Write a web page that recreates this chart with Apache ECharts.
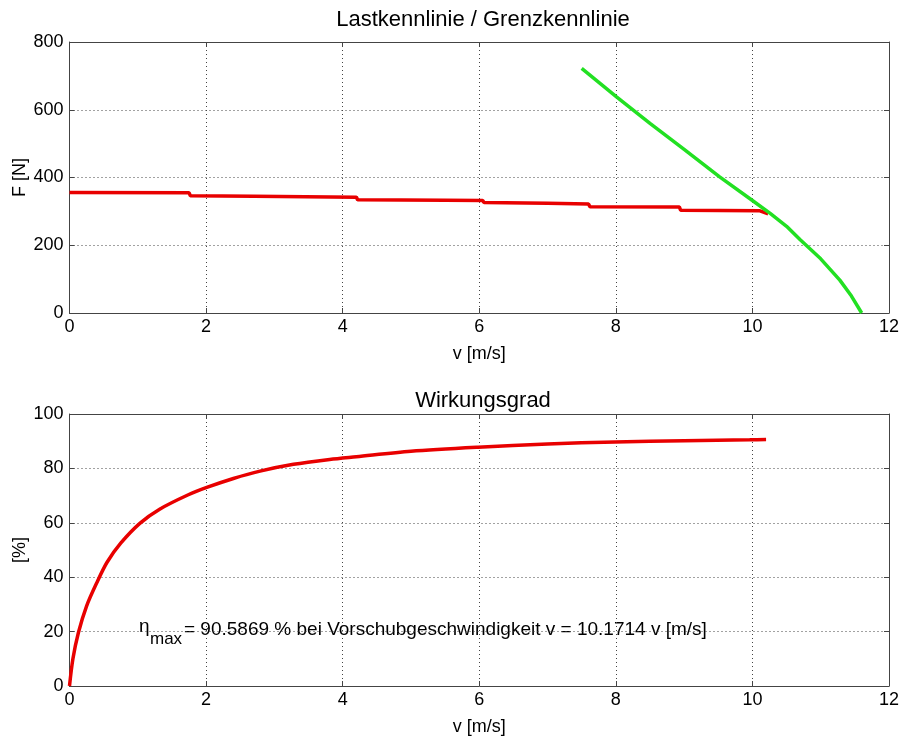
<!DOCTYPE html>
<html>
<head>
<meta charset="utf-8">
<title>Lastkennlinie / Wirkungsgrad</title>
<script src="https://cdn.jsdelivr.net/npm/echarts@6/dist/echarts.min.js"></script>
<style>
  html, body { margin: 0; padding: 0; background: #fff; }
  #main { width: 901px; height: 738px; }
</style>
</head>
<body>
<div id="main"></div>
<script type="text/javascript">
    // Lastkennlinie (rot), [v m/s, F N]
    var lastData = [
        [0, 356], [1.75, 355], [1.77, 346], [2.7, 345], [2.72, 343], [4.2, 342],
        [4.22, 334], [5.5, 333], [6.05, 332], [6.07, 326], [7.0, 324], [7.6, 322],
        [7.62, 314], [8.93, 313], [8.95, 303], [10.1, 302], [10.23, 293]
    ];
    // Grenzkennlinie (gruen)
    var grenzData = [
        [7.5, 722], [8.01, 638], [8.5, 560], [9.0, 483], [9.52, 402], [10.0, 332],
        [10.26, 294], [10.5, 256], [10.7, 216], [11.0, 160], [11.28, 97], [11.45, 50], [11.6, 0]
    ];
    // Wirkungsgrad [v m/s, %]
    var etaData = [
        [0, 0], [0.05, 10], [0.13, 19.6], [0.25, 29.4], [0.4, 38], [0.55, 45.5],
        [0.75, 52.5], [1.03, 59.8], [1.32, 65], [1.74, 70.3], [2.01, 73], [2.4, 76.3],
        [2.79, 79], [3.28, 81.5], [3.81, 83.3], [4.2, 84.3], [5, 86.3], [5.98, 87.8],
        [7, 89], [7.99, 89.7], [9, 90.2], [9.96, 90.5], [10.2, 90.6]
    ];
    var xTicks = [0, 2, 4, 6, 8, 10, 12];
    var fTicks = [0, 200, 400, 600, 800];
    var etaTicks = [0, 20, 40, 60, 80, 100];

    var FONT = 'Liberation Sans, Arial, sans-serif';
    var gridLine = { show: true, lineStyle: { color: '#444', type: [1, 3], width: 1 } };

    function xAx(idx, main) {
        return {
            type: 'value', gridIndex: idx, min: xTicks[0], max: xTicks[xTicks.length - 1], interval: 2,
            position: main ? 'bottom' : 'top',
            name: main ? 'v [m/s]' : '', nameLocation: 'middle', nameGap: 32,
            nameTextStyle: { color: '#000', fontSize: 18, fontFamily: FONT },
            axisLine: { show: true, onZero: false, lineStyle: { color: '#444', width: 1 } },
            axisTick: { show: true, inside: true, length: 5, lineStyle: { color: '#444' } },
            axisLabel: main ? { show: true, margin: 5, color: '#000', fontSize: 18, fontFamily: FONT } : { show: false },
            splitLine: main ? gridLine : { show: false }
        };
    }
    function yAx(idx, main, ticks, name) {
        return {
            type: 'value', gridIndex: idx, min: ticks[0], max: ticks[ticks.length - 1], interval: ticks[1] - ticks[0],
            position: main ? 'left' : 'right',
            name: main ? name : '', nameLocation: 'middle', nameGap: 40, nameMoveOverlap: false,
            nameTextStyle: { color: '#000', fontSize: 18, fontFamily: FONT },
            axisLine: { show: true, onZero: false, lineStyle: { color: '#444', width: 1 } },
            axisTick: { show: true, inside: true, length: 5, lineStyle: { color: '#444' } },
            axisLabel: main ? { show: true, margin: 6, color: '#000', fontSize: 18, fontFamily: FONT } : { show: false },
            splitLine: main ? gridLine : { show: false }
        };
    }

    var myChart = echarts.init(document.getElementById('main'), null, { renderer: 'canvas' });
    myChart.setOption({
        animation: false,
        backgroundColor: '#fff',
        title: [
            { text: 'Lastkennlinie / Grenzkennlinie', left: 478, top: 4, textAlign: 'center',
              textStyle: { color: '#000', fontSize: 22, fontWeight: 'normal', fontFamily: FONT } },
            { text: 'Wirkungsgrad', left: 478, top: 385, textAlign: 'center',
              textStyle: { color: '#000', fontSize: 22, fontWeight: 'normal', fontFamily: FONT } }
        ],
        grid: [
            { left: 69.5, top: 42, width: 819.5, height: 271, outerBoundsMode: 'none' },
            { left: 69.5, top: 414, width: 819.5, height: 272, outerBoundsMode: 'none' }
        ],
        xAxis: [xAx(0, true), xAx(0, false), xAx(1, true), xAx(1, false)],
        yAxis: [yAx(0, true, fTicks, 'F [N]'), yAx(0, false, fTicks, ''),
                yAx(1, true, etaTicks, '[%]'), yAx(1, false, etaTicks, '')],
        series: [
            { name: 'Lastkennlinie', type: 'line', xAxisIndex: 0, yAxisIndex: 0, data: lastData,
              showSymbol: false, lineStyle: { color: '#e80000', width: 3.5 } },
            { name: 'Grenzkennlinie', type: 'line', xAxisIndex: 0, yAxisIndex: 0, data: grenzData,
              showSymbol: false, lineStyle: { color: '#22e022', width: 3.5 } },
            { name: 'Wirkungsgrad', type: 'line', xAxisIndex: 2, yAxisIndex: 2, data: etaData,
              showSymbol: false, smooth: 0.3, lineStyle: { color: '#e80000', width: 3.5 } }
        ],
        graphic: [
            { type: 'text', style: { text: 'η', x: 139, y: 627, verticalAlign: 'middle',
              fontSize: 19, fontFamily: FONT, fill: '#000' } },
            { type: 'text', style: { text: 'max', x: 150, y: 639, verticalAlign: 'middle',
              fontSize: 17, fontFamily: FONT, fill: '#000' } },
            { type: 'text', style: { text: '= 90.5869 % bei Vorschubgeschwindigkeit v = 10.1714 v [m/s]',
              x: 184, y: 630, verticalAlign: 'middle', fontSize: 19, fontFamily: FONT, fill: '#000' } }
        ]
    });
</script>
</body>
</html>
